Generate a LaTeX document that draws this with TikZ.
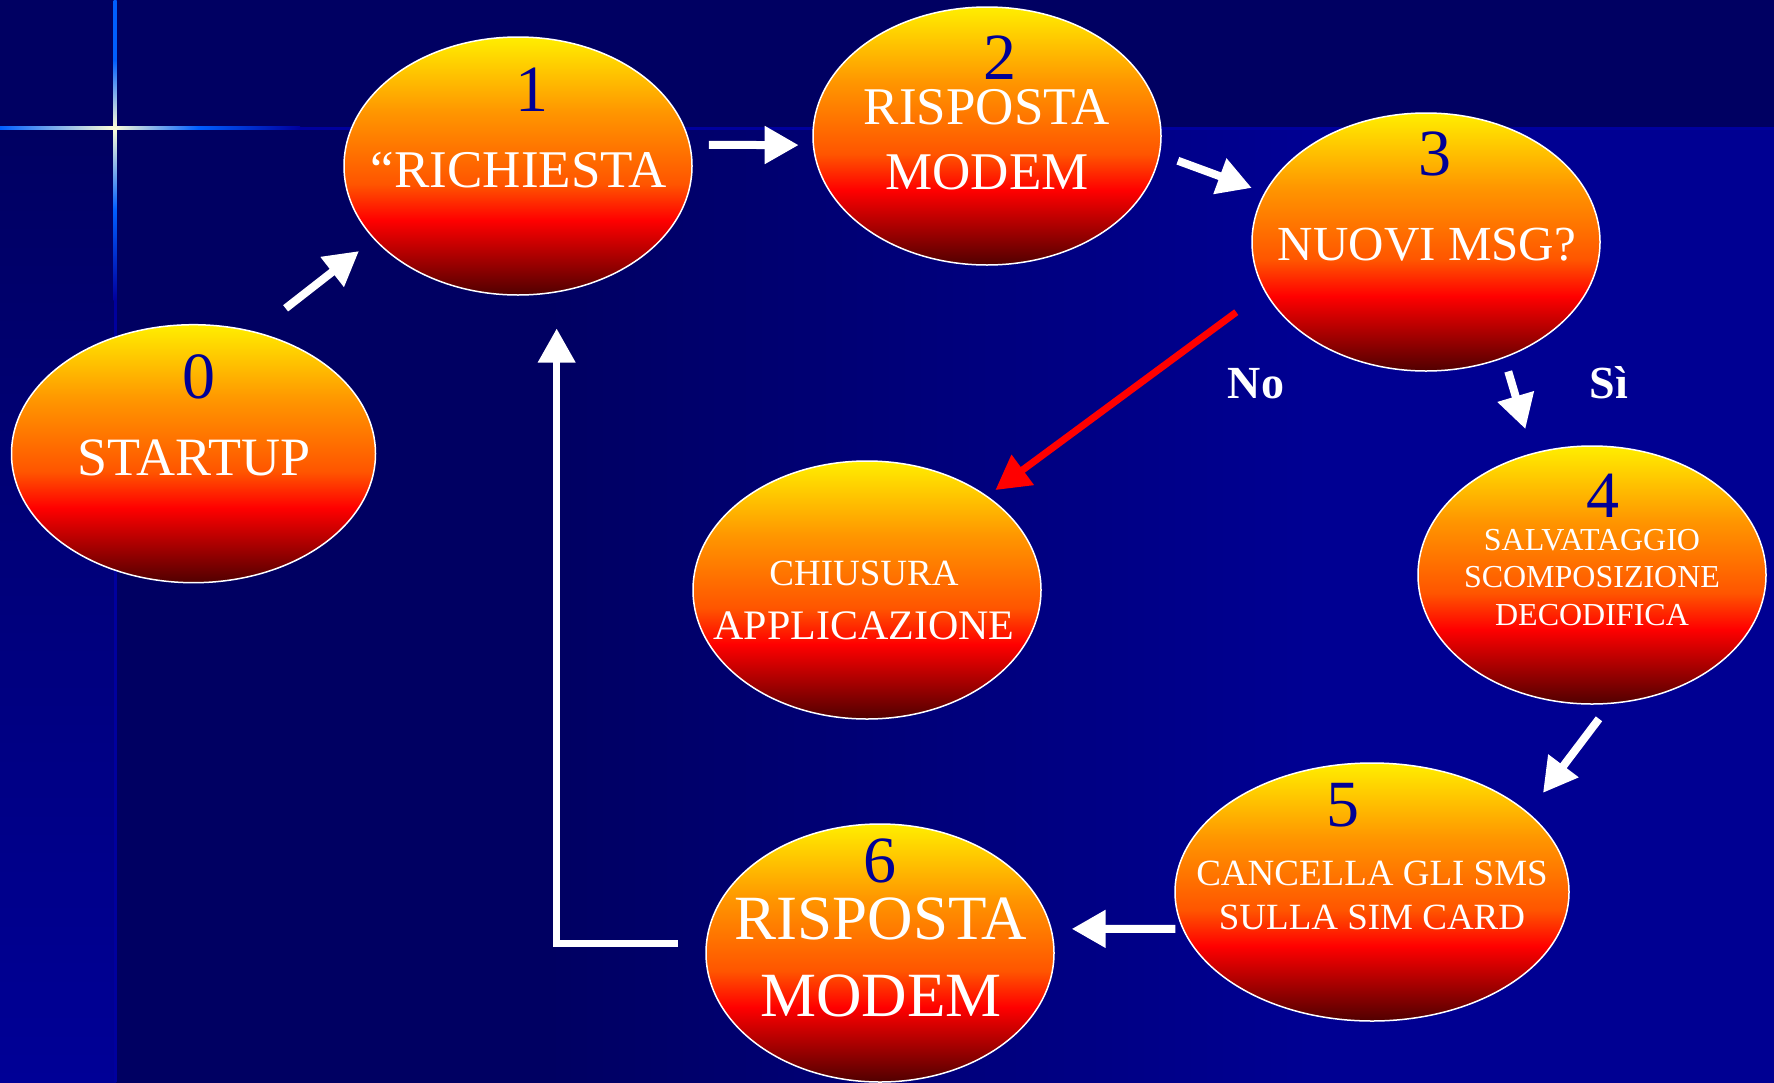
\documentclass[tikz,border=0pt]{standalone}
\usepackage{fontspec}
\setmainfont{Liberation Serif}
\usetikzlibrary{shapes.geometric, arrows.meta}

\definecolor{navyA}{RGB}{0,0,98}
\definecolor{navyB}{RGB}{0,0,146}
\definecolor{navyC}{RGB}{0,0,150}
\definecolor{edgeblue}{RGB}{0,0,158}
\definecolor{glintblue}{RGB}{0,95,255}
\definecolor{glintwhite}{RGB}{255,255,215}
\definecolor{numblue}{RGB}{0,0,150}
\definecolor{blobyellow}{RGB}{255,238,0}
\definecolor{bloborange}{RGB}{255,150,0}
\definecolor{bloborangered}{RGB}{255,85,0}
\definecolor{blobred}{RGB}{255,0,0}
\definecolor{blobdark}{RGB}{80,0,0}

\pgfdeclareverticalshading{blob}{100bp}{color(0bp)=(blobdark); color(25bp)=(blobdark); color(39.5bp)=(blobred); color(46.5bp)=(bloborangered); color(60.5bp)=(bloborange); color(75bp)=(blobyellow); color(100bp)=(blobyellow)}
\pgfdeclarehorizontalshading{deepsea}{100bp}{color(0bp)=(navyA); color(25bp)=(navyA); color(38bp)=(navyA); color(61bp)=(navyB); color(75bp)=(navyB); color(100bp)=(navyB)}
\pgfdeclarehorizontalshading{glinth}{100bp}{color(0bp)=(glintblue); color(25bp)=(glintblue); color(44bp)=(glintwhite); color(58bp)=(glintblue); color(75bp)=(edgeblue); color(100bp)=(edgeblue)}
\pgfdeclareverticalshading{glintv}{100bp}{color(0bp)=(edgeblue); color(25bp)=(edgeblue); color(40bp)=(glintblue); color(53.7bp)=(glintwhite); color(65bp)=(glintblue); color(100bp)=(glintblue)}

\tikzset{
	stateblob/.style={ellipse, draw=white, line width=1.5pt, shading=blob, inner sep=0pt, minimum width=348pt, minimum height=258pt},
	num/.style={text=numblue, anchor=base, inner sep=0pt, font=\fontsize{66}{66}\selectfont},
	caption/.style={text=white, anchor=base, inner sep=0pt, align=center},
	choice/.style={text=white, anchor=base, inner sep=0pt, font=\bfseries\fontsize{46}{46}\selectfont},
	flow/.style={draw=white, line width=8pt, -{Triangle[length=34pt,width=36pt]}}
}

\begin{document}
\begin{tikzpicture}[x=1pt, y=-1pt]
	\useasboundingbox (0,0) rectangle (1774,1082);
	% background
	\fill[navyA] (0,0) rectangle (1774,1082);
	\shade[shading=deepsea] (116,128) rectangle (1774,1082);
	\shade[top color=navyA, bottom color=navyC] (0,128) rectangle (116,1082);
	\draw[edgeblue, line width=3pt] (0,128) -- (1774,128);
	\draw[edgeblue, line width=3pt] (115,0) -- (115,1082);
	\shade[shading=glinth] (0,126.5) rectangle (300,129.5);
	\shade[shading=glintv] (113.5,0) rectangle (116.5,300);

	% the states
	\node[stateblob, minimum width=364pt] (n0) at (193.5,453.7) {};
	\node[stateblob] (n1) at (518,166) {};
	\node[stateblob] (n2) at (987,136) {};
	\node[stateblob] (n3) at (1426,242) {};
	\node[stateblob] (n4) at (1592,575) {};
	\node[stateblob, minimum width=394pt] (n5) at (1372,892) {};
	\node[stateblob] (n6) at (880,953) {};
	\node[stateblob] (nc) at (867,590) {};

	% numbers and texts (multi-line texts sit on their last line)
	\node[num] (n0num) at (199,398) {0};
	\node[caption, font=\fontsize{54}{65}\selectfont] (n0txt) at (194,475) {STARTUP};
	\node[num] (n1num) at (532,111) {1};
	\node[caption, font=\fontsize{53}{65}\selectfont] (n1txt) at (519,187) {“RICHIESTA};
	\node[num] (n2num) at (1000,79) {2};
	\node[caption, font=\fontsize{53}{65}\selectfont] (n2txt) at (987,189) {RISPOSTA\\MODEM};
	\node[num] (n3num) at (1435,175) {3};
	\node[caption, font=\fontsize{49}{60}\selectfont] (n3txt) at (1427,260) {NUOVI MSG?};
	\node[num] (n4num) at (1603,517) {4};
	\node[caption, font=\fontsize{32}{37.5}\selectfont] (n4txt) at (1592,625) {SALVATAGGIO\\SCOMPOSIZIONE\\DECODIFICA};
	\node[caption, font=\fontsize{42}{54}\selectfont] (nctxt) at (864,639) {{\fontsize{37}{54}\selectfont CHIUSURA}\\APPLICAZIONE};
	\node[num] (n5num) at (1343,826) {5};
	\node[caption, font=\fontsize{37}{44}\selectfont] (n5txt) at (1372,929) {CANCELLA GLI SMS\\SULLA SIM CARD};
	\node[num] (n6num) at (880,882) {6};
	\node[caption, font=\fontsize{63}{77}\selectfont] (n6txt) at (881,1016) {RISPOSTA\\MODEM};

	\node[choice] (no) at (1256,398) {No};
	\node[choice] (si) at (1609,398) {Sì};

	% transitions
	\draw[flow, shorten <=38pt, shorten >=19pt] (n0.63) -- (n1.207);
	\draw[flow, shorten <=18.5pt, shorten >=14pt] (n1.7) -- (n2.183);
	\draw[flow, shorten <=19pt, shorten >=13.5pt] (n2.-6) -- (n3.163);
	\draw[flow, shorten <=14pt, shorten >=25pt] (n3.-56) -- (n4.116);
	\draw[flow, shorten <=18.5pt, shorten >=24.5pt] (n4.-82) -- (n5.27);
	\draw[flow, shorten <=7pt, shorten >=20pt] (n5.191) -- (n6.8);
	\draw[flow, line width=7pt, shorten <=28pt, shorten >=36pt] (n6.177) -| (n1.-73);
	\draw[flow, draw=red, line width=7pt, shorten <=35pt, shorten >=10pt] (n3.197) -- (nc.38);
\end{tikzpicture}
\end{document}
